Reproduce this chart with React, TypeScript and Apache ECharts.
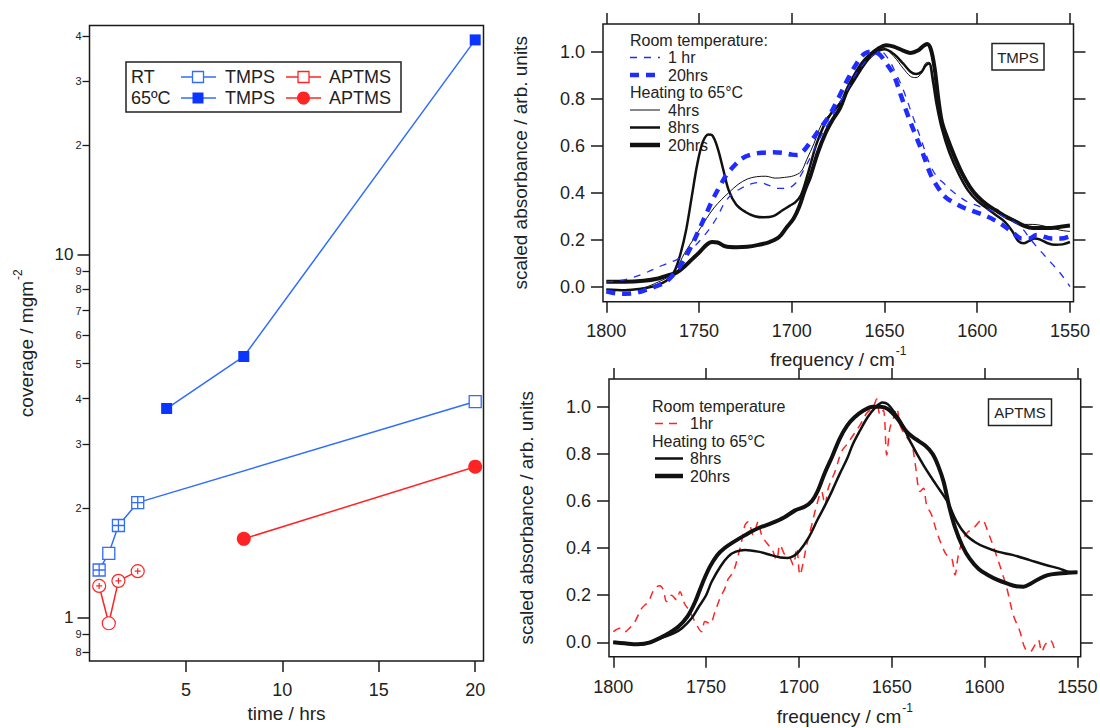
import React, { useEffect, useRef } from 'react';
import * as echarts from 'echarts';

const FONT = '"Liberation Sans", Arial, Helvetica, sans-serif';
const TXT = '#222';
const FRAME = '#1a1a1a';

// ---------- Left panel: coverage vs time ----------
const timeRTTmps = [0.5, 1, 1.5, 2.5, 20];
const coverageRTTmps = [1.35, 1.5, 1.79, 2.07, 3.93];
const crossRTTmps = [true, false, true, true, false];

const timeRTAptms = [0.5, 1, 1.5, 2.5];
const coverageRTAptms = [1.22, 0.963, 1.26, 1.34];
const crossRTAptms = [true, false, true, true];

const time65Tmps = [4, 8, 20];
const coverage65Tmps = [3.76, 5.23, 38.96];

const time65Aptms = [8, 20];
const coverage65Aptms = [1.645, 2.6];

const timeTicks = [5, 10, 15, 20];
const covMajorTicks = [1, 10];
const covMajorLabels = ['1', '10'];
const covMinorTicks = [0.8, 0.9, 2, 3, 4, 5, 6, 7, 8, 9, 20, 30, 40];
const covMinorLabels = ['8', '9', '2', '3', '4', '5', '6', '7', '8', '9', '2', '3', '4'];

// ---------- Spectra ----------
const freqTicks = [1550, 1600, 1650, 1700, 1750, 1800];
const absTicks = [0, 0.2, 0.4, 0.6, 0.8, 1.0];

const tmpsRT1hr = [
  [1800, 0.02], [1790, 0.03], [1780, 0.055], [1770, 0.09], [1762, 0.115], [1757, 0.14], [1752, 0.175],
  [1748, 0.21], [1744, 0.25], [1740, 0.3], [1736, 0.36], [1732, 0.395], [1727, 0.42], [1722, 0.438],
  [1717, 0.443], [1712, 0.43], [1707, 0.418], [1702, 0.42], [1698, 0.44], [1694, 0.49], [1690, 0.55],
  [1685, 0.63], [1680, 0.7], [1675, 0.77], [1670, 0.84], [1665, 0.91], [1660, 0.96], [1655, 0.99],
  [1652, 1.0], [1648, 0.97], [1644, 0.91], [1640, 0.84], [1635, 0.73], [1630, 0.62], [1626, 0.53],
  [1622, 0.47], [1618, 0.44], [1614, 0.41], [1610, 0.385], [1605, 0.36], [1600, 0.345], [1595, 0.33],
  [1590, 0.315], [1585, 0.295], [1580, 0.275], [1576, 0.25], [1572, 0.21], [1568, 0.17], [1564, 0.135],
  [1560, 0.1], [1555, 0.055], [1550, 0.0],
];

const tmpsRT20hrs = [
  [1800, -0.02], [1795, -0.028], [1790, -0.03], [1785, -0.028], [1779, -0.015], [1772, 0.005], [1768, 0.02],
  [1764, 0.05], [1760, 0.09], [1757, 0.13], [1754, 0.175], [1751, 0.225], [1747, 0.295], [1743, 0.365],
  [1739, 0.425], [1735, 0.478], [1731, 0.515], [1727, 0.545], [1722, 0.562], [1716, 0.57], [1710, 0.572],
  [1705, 0.57], [1700, 0.562], [1697, 0.56], [1694, 0.575], [1690, 0.615], [1685, 0.67], [1680, 0.725],
  [1675, 0.8], [1670, 0.88], [1665, 0.95], [1661, 0.99], [1657, 1.0], [1653, 0.99], [1649, 0.95],
  [1645, 0.9], [1641, 0.81], [1637, 0.72], [1633, 0.64], [1629, 0.56], [1625, 0.475], [1621, 0.42],
  [1617, 0.38], [1612, 0.355], [1607, 0.335], [1600, 0.315], [1595, 0.3], [1590, 0.28], [1585, 0.255],
  [1580, 0.225], [1576, 0.205], [1572, 0.205], [1568, 0.22], [1565, 0.215], [1560, 0.205], [1555, 0.205],
  [1550, 0.215],
];

const tmps65_4hrs = [
  [1800, -0.012], [1790, -0.015], [1780, -0.005], [1772, 0.02], [1766, 0.045], [1762, 0.08], [1758, 0.14],
  [1754, 0.19], [1750, 0.24], [1746, 0.29], [1742, 0.335], [1738, 0.37], [1734, 0.4], [1729, 0.435],
  [1724, 0.458], [1719, 0.468], [1714, 0.47], [1709, 0.462], [1704, 0.465], [1699, 0.472], [1695, 0.49],
  [1692, 0.54], [1688, 0.61], [1684, 0.69], [1680, 0.73], [1676, 0.765], [1672, 0.81], [1668, 0.87],
  [1664, 0.92], [1660, 0.96], [1655, 0.995], [1650, 1.01], [1645, 0.98], [1640, 0.93], [1636, 0.895],
  [1633, 0.89], [1630, 0.91], [1628, 0.95], [1626, 0.955], [1624, 0.9], [1622, 0.8], [1619, 0.69],
  [1615, 0.59], [1610, 0.5], [1605, 0.43], [1600, 0.38], [1595, 0.35], [1590, 0.325], [1585, 0.305],
  [1580, 0.285], [1575, 0.265], [1570, 0.265], [1565, 0.26], [1560, 0.25], [1555, 0.24], [1550, 0.235],
];

const tmps65_8hrs = [
  [1800, -0.012], [1790, -0.015], [1780, -0.008], [1775, 0.0], [1770, 0.015], [1766, 0.035], [1763, 0.07],
  [1760, 0.14], [1757, 0.24], [1754, 0.38], [1751, 0.52], [1748, 0.615], [1745, 0.648], [1743, 0.645],
  [1740, 0.59], [1737, 0.5], [1734, 0.41], [1730, 0.35], [1725, 0.318], [1720, 0.3], [1715, 0.295],
  [1710, 0.3], [1705, 0.325], [1701, 0.345], [1698, 0.36], [1695, 0.39], [1691, 0.49], [1687, 0.6],
  [1683, 0.68], [1679, 0.735], [1675, 0.77], [1671, 0.82], [1667, 0.87], [1663, 0.92], [1659, 0.965],
  [1655, 0.995], [1650, 1.01], [1645, 0.99], [1640, 0.95], [1636, 0.915], [1633, 0.905], [1630, 0.915],
  [1628, 0.94], [1626, 0.95], [1624, 0.88], [1622, 0.78], [1619, 0.67], [1615, 0.57], [1610, 0.48],
  [1605, 0.41], [1600, 0.365], [1595, 0.335], [1590, 0.305], [1585, 0.275], [1581, 0.235], [1578, 0.195],
  [1575, 0.185], [1572, 0.195], [1569, 0.205], [1566, 0.2], [1562, 0.185], [1558, 0.178], [1554, 0.18],
  [1550, 0.19],
];

const tmps65_20hrs = [
  [1800, 0.021], [1790, 0.021], [1780, 0.025], [1772, 0.035], [1766, 0.05], [1762, 0.06], [1758, 0.085],
  [1754, 0.115], [1750, 0.145], [1746, 0.178], [1743, 0.19], [1740, 0.188], [1736, 0.172], [1730, 0.168],
  [1724, 0.17], [1718, 0.178], [1712, 0.19], [1707, 0.21], [1703, 0.25], [1699, 0.29], [1696, 0.34],
  [1693, 0.41], [1690, 0.47], [1686, 0.57], [1682, 0.65], [1678, 0.71], [1674, 0.76], [1670, 0.84],
  [1666, 0.9], [1662, 0.95], [1658, 0.985], [1654, 1.01], [1649, 1.028], [1645, 1.022], [1640, 1.005],
  [1636, 0.995], [1632, 1.005], [1629, 1.025], [1627, 1.033], [1625, 1.01], [1623, 0.93], [1621, 0.8],
  [1619, 0.7], [1616, 0.63], [1612, 0.55], [1608, 0.48], [1604, 0.425], [1600, 0.385], [1595, 0.35],
  [1590, 0.325], [1585, 0.3], [1580, 0.28], [1575, 0.26], [1570, 0.25], [1565, 0.25], [1560, 0.25],
  [1555, 0.255], [1550, 0.26],
];

const aptmsRT1hr = [
  [1800, 0.045], [1796.4, 0.06], [1793.7, 0.045], [1791, 0.062], [1788.3, 0.088], [1784.7, 0.144],
  [1781.1, 0.173], [1777.6, 0.23], [1774.9, 0.24], [1773, 0.222], [1771.3, 0.173], [1768.6, 0.2],
  [1765.9, 0.18], [1764.1, 0.215], [1761.7, 0.166], [1758.7, 0.13], [1756, 0.088], [1752.4, 0.045],
  [1750.6, 0.088], [1747.9, 0.08], [1745.2, 0.13], [1742.5, 0.187], [1739.8, 0.23], [1738, 0.27],
  [1735.3, 0.3], [1732.7, 0.37], [1730.9, 0.427], [1729, 0.498], [1727.3, 0.512], [1724.6, 0.456],
  [1721.9, 0.512], [1720.1, 0.456], [1716.5, 0.413], [1714.7, 0.4], [1712, 0.35], [1710.2, 0.413],
  [1707.5, 0.37], [1704.8, 0.357], [1703, 0.328], [1701.2, 0.4], [1699.4, 0.286], [1697.6, 0.342],
  [1695.8, 0.413], [1693.1, 0.498], [1690.4, 0.583], [1687.8, 0.64], [1686, 0.583], [1684.2, 0.654],
  [1680.6, 0.724], [1677, 0.81], [1674.3, 0.838], [1670.7, 0.88], [1667.1, 0.922], [1663.5, 0.972],
  [1659.9, 1.0], [1658.1, 1.033], [1656.3, 0.965], [1654.5, 0.986], [1652.7, 0.795], [1651, 0.908],
  [1649.1, 0.951], [1647.3, 0.993], [1645.5, 0.922], [1642.8, 0.88], [1639.2, 0.838], [1637.4, 0.76],
  [1634.7, 0.64], [1632.9, 0.654], [1631.2, 0.583], [1628.5, 0.54], [1625.8, 0.47], [1623.1, 0.413],
  [1620.4, 0.37], [1617.7, 0.357], [1615.9, 0.286], [1614.1, 0.37], [1611.4, 0.44], [1608.7, 0.47],
  [1606, 0.484], [1601.5, 0.52], [1597.9, 0.463], [1594.3, 0.385], [1590.7, 0.3], [1588, 0.23],
  [1584.5, 0.116], [1580.9, 0.045], [1578.2, -0.025], [1575.5, -0.04], [1572.8, -0.011], [1571, 0.01],
  [1569.2, -0.04], [1567.4, -0.011], [1564.7, 0.01], [1562, -0.04],
];

const aptms65_8hrs = [
  [1800, 0.0], [1793, -0.006], [1786, -0.01], [1779, 0.005], [1772, 0.024], [1767, 0.04], [1763, 0.06],
  [1758, 0.1], [1754, 0.15], [1750, 0.2], [1747, 0.257], [1742, 0.325], [1738, 0.365], [1734, 0.385],
  [1729, 0.392], [1722, 0.385], [1715, 0.37], [1710, 0.36], [1706, 0.358], [1703, 0.366], [1700, 0.385],
  [1695, 0.441], [1690, 0.52], [1686, 0.58], [1682, 0.645], [1678, 0.715], [1674, 0.78], [1671, 0.84],
  [1667, 0.9], [1663, 0.955], [1659, 0.995], [1655, 1.018], [1652, 1.01], [1648, 0.97], [1645, 0.935],
  [1640, 0.852], [1633, 0.753], [1626, 0.668], [1620, 0.597], [1615, 0.512], [1610, 0.456], [1605, 0.425],
  [1600, 0.405], [1593, 0.385], [1585, 0.371], [1576, 0.35], [1567, 0.328], [1560, 0.314], [1554, 0.298],
  [1550, 0.297],
];

const aptms65_20hrs = [
  [1800, 0.0], [1794, -0.004], [1787, -0.008], [1780, 0.0], [1772, 0.03], [1765, 0.066], [1760, 0.11],
  [1756, 0.17], [1752, 0.25], [1748, 0.32], [1744, 0.37], [1740, 0.4], [1736, 0.422], [1729, 0.455],
  [1722, 0.484], [1715, 0.505], [1708, 0.53], [1702, 0.56], [1697, 0.575], [1693, 0.6], [1690, 0.64],
  [1686, 0.72], [1682, 0.79], [1678, 0.865], [1674, 0.92], [1670, 0.955], [1665, 0.985], [1660, 1.0],
  [1656, 1.0], [1652, 0.99], [1647, 0.95], [1642, 0.894], [1637, 0.862], [1632, 0.835], [1628, 0.8],
  [1625, 0.75], [1622, 0.68], [1619, 0.575], [1616, 0.49], [1612, 0.41], [1608, 0.355], [1603, 0.31],
  [1598, 0.285], [1593, 0.265], [1588, 0.25], [1583, 0.238], [1579, 0.236], [1575, 0.25], [1571, 0.268],
  [1566, 0.285], [1560, 0.292], [1555, 0.295], [1550, 0.297],
];

// ---------- styling helpers ----------
const BLUE_LINE = '#2f6dff';
const BLUE_FILL = '#0a36ff';
const RED = '#ff2424';
const SPEC_BLUE = '#1f2bff';
const BLACK = '#111111';

const SQ = 'path://M0,0L10,0L10,10L0,10Z';
const SQ_CROSS = 'path://M0,0L10,0L10,10L0,10Z M5,0L5,10 M0,5L10,5';
const CIRC = 'path://M0,5A5,5,0,1,1,10,5A5,5,0,1,1,0,5Z';
const CIRC_PLUS = 'path://M0,5A5,5,0,1,1,10,5A5,5,0,1,1,0,5Z M5,2.7L5,7.3 M2.7,5L7.3,5';

const log10 = (v: number) => Math.log10(v);

function labelFor(ticks: number[], labels: string[], v: number) {
  let best = 0;
  let bd = Infinity;
  ticks.forEach((t, i) => {
    const d = Math.abs(log10(t) - v);
    if (d < bd) { bd = d; best = i; }
  });
  return labels[best];
}

const supRich = {
  base: { fontSize: 19, fontFamily: FONT, color: TXT, verticalAlign: 'bottom', lineHeight: 24 },
  sup: { fontSize: 12, fontFamily: FONT, color: TXT, verticalAlign: 'top', lineHeight: 24, padding: [0, 0, 12, 1] },
};

const noLine = { show: false, onZero: false };

function freqAxis(gridIndex: number, min: number, max: number, position: 'top' | 'bottom', withLabels: boolean, nameGap: number, labelMargin: number) {
  return {
    type: 'value',
    gridIndex,
    position,
    inverse: true,
    min,
    max,
    axisLine: noLine,
    splitLine: { show: false },
    axisTick: { show: true, length: 11, customValues: freqTicks, lineStyle: { color: FRAME, width: 1.5 } },
    axisLabel: {
      show: withLabels,
      customValues: freqTicks,
      fontSize: 18,
      fontFamily: FONT,
      color: TXT,
      margin: labelMargin,
      formatter: (v: number) => String(Math.round(v)),
    },
    name: withLabels ? '{base|frequency / cm}{sup|-1}' : '',
    nameLocation: 'middle',
    nameGap,
    nameTextStyle: { rich: supRich },
  };
}

function absAxis(gridIndex: number, min: number, max: number, position: 'left' | 'right', withLabels: boolean, nameGap: number) {
  return {
    type: 'value',
    gridIndex,
    position,
    min,
    max,
    axisLine: noLine,
    splitLine: { show: false },
    axisTick: { show: true, length: 12, customValues: absTicks, lineStyle: { color: FRAME, width: 1.5 } },
    axisLabel: {
      show: withLabels,
      customValues: absTicks,
      fontSize: 18,
      fontFamily: FONT,
      color: TXT,
      margin: 18,
      formatter: (v: number) => v.toFixed(1),
    },
    name: withLabels ? 'scaled absorbance / arb. units' : '',
    nameLocation: 'middle',
    nameGap,
    nameRotate: 90,
    nameTextStyle: { fontSize: 19, fontFamily: FONT, color: TXT },
  };
}

function specLine(data: number[][], xi: number, yi: number, color: string, width: number, dash: number[] | 'solid', z: number) {
  return {
    type: 'line',
    xAxisIndex: xi,
    yAxisIndex: yi,
    data,
    showSymbol: false,
    symbol: 'none',
    smooth: 0.35,
    clip: true,
    silent: true,
    z,
    lineStyle: { color, width, type: dash, cap: 'butt', join: 'round' },
  };
}

function buildOption() {
  const gridBorder = {
    show: true, borderColor: FRAME, borderWidth: 1.5, backgroundColor: 'transparent',
    containLabel: false, outerBoundsMode: 'none',
  };

  const rtTmpsData = timeRTTmps.map((t, i) => ({
    value: [t, log10(coverageRTTmps[i])],
    symbol: crossRTTmps[i] ? SQ_CROSS : SQ,
  }));
  const rtAptmsData = timeRTAptms.map((t, i) => ({
    value: [t, log10(coverageRTAptms[i])],
    symbol: crossRTAptms[i] ? CIRC_PLUS : CIRC,
  }));

  const legendText = (text: string, x: number, y: number, size = 16) => ({
    type: 'text',
    x,
    y,
    silent: true,
    style: { text, fill: TXT, fontSize: size, fontFamily: FONT, verticalAlign: 'middle', align: 'left' },
  });
  const legendLine = (x1: number, x2: number, y: number, stroke: string, lineWidth: number, lineDash?: number[]) => ({
    type: 'line',
    silent: true,
    shape: { x1, y1: y, x2, y2: y },
    style: { stroke, lineWidth, lineDash: lineDash || null },
  });

  const graphic = [
    // Left-panel legend
    { type: 'rect', silent: true, shape: { x: 126, y: 62, width: 275, height: 50 }, style: { fill: '#fff', stroke: '#222', lineWidth: 1.5 } },
    legendText('RT', 131, 77, 18),
    legendText('65ºC', 131, 98, 18),
    legendLine(181, 216, 77, BLUE_LINE, 1.5),
    { type: 'rect', silent: true, shape: { x: 192.5, y: 71.5, width: 11, height: 11 }, style: { fill: '#fff', stroke: BLUE_LINE, lineWidth: 1.3 } },
    legendText('TMPS', 225, 77, 18),
    legendLine(181, 216, 98, BLUE_LINE, 1.5),
    { type: 'rect', silent: true, shape: { x: 192.5, y: 92.5, width: 11, height: 11 }, style: { fill: BLUE_FILL } },
    legendText('TMPS', 225, 98, 18),
    legendLine(286, 321, 77, RED, 1.5),
    { type: 'rect', silent: true, shape: { x: 298, y: 71.5, width: 11, height: 11 }, style: { fill: '#fff', stroke: RED, lineWidth: 1.3 } },
    legendText('APTMS', 329, 77, 18),
    legendLine(286, 321, 98, RED, 1.5),
    { type: 'circle', silent: true, shape: { cx: 303.5, cy: 98, r: 6.5 }, style: { fill: RED } },
    legendText('APTMS', 329, 98, 18),

    // Top-right legend
    legendText('Room temperature:', 630, 40),
    legendLine(630, 660, 57.5, SPEC_BLUE, 1.3, [7, 7]),
    legendText('1 hr', 668, 57.5),
    legendLine(630, 660, 75, SPEC_BLUE, 4.5, [9, 7]),
    legendText('20hrs', 668, 75),
    legendText('Heating to 65°C', 630, 92.5),
    legendLine(630, 660, 110, BLACK, 1),
    legendText('4hrs', 668, 110),
    legendLine(630, 660, 127.5, BLACK, 2.5),
    legendText('8hrs', 668, 127.5),
    legendLine(630, 660, 145, BLACK, 4.5),
    legendText('20hrs', 668, 145),
    { type: 'rect', silent: true, shape: { x: 992, y: 43.5, width: 52, height: 26.5 }, style: { fill: '#fff', stroke: '#222', lineWidth: 1.5 } },
    { type: 'text', silent: true, x: 1018, y: 57, style: { text: 'TMPS', fill: TXT, fontSize: 15, fontFamily: FONT, align: 'center', verticalAlign: 'middle' } },

    // Bottom-right legend
    legendText('Room temperature', 652, 406),
    legendLine(655, 683, 423.5, RED, 1.5, [8, 6]),
    legendText('1hr', 690, 423.5),
    legendText('Heating to 65°C', 652, 441),
    legendLine(655, 683, 458.5, BLACK, 2.5),
    legendText('8hrs', 690, 458.5),
    legendLine(655, 683, 476, BLACK, 4.5),
    legendText('20hrs', 690, 476),
    { type: 'rect', silent: true, shape: { x: 988.5, y: 399, width: 63, height: 26.5 }, style: { fill: '#fff', stroke: '#222', lineWidth: 1.5 } },
    { type: 'text', silent: true, x: 1020, y: 412.5, style: { text: 'APTMS', fill: TXT, fontSize: 15, fontFamily: FONT, align: 'center', verticalAlign: 'middle' } },
  ];

  return {
    animation: false,
    backgroundColor: '#ffffff',
    textStyle: { fontFamily: FONT },
    grid: [
      { left: 89.5, top: 25.5, width: 394, height: 635.5, ...gridBorder },
      { left: 603, top: 24, width: 470.5, height: 277.7, ...gridBorder },
      { left: 609, top: 379, width: 471.7, height: 277.7, ...gridBorder },
    ],
    xAxis: [
      {
        type: 'value',
        gridIndex: 0,
        position: 'bottom',
        min: 0,
        max: 20.43,
        axisLine: noLine,
        splitLine: { show: false },
        axisTick: { show: true, length: 11, customValues: timeTicks, lineStyle: { color: FRAME, width: 1.5 } },
        axisLabel: { customValues: timeTicks, fontSize: 18, fontFamily: FONT, color: TXT, margin: 20 },
        name: 'time / hrs',
        nameLocation: 'middle',
        nameGap: 43,
        nameTextStyle: { fontSize: 19, fontFamily: FONT, color: TXT },
      },
      freqAxis(1, 1548.1, 1801.8, 'bottom', true, 43, 20),
      freqAxis(1, 1548.1, 1801.8, 'top', false, 0, 8),
      freqAxis(2, 1548.2, 1802.3, 'bottom', true, 45, 21),
      freqAxis(2, 1548.2, 1802.3, 'top', false, 0, 8),
    ],
    yAxis: [
      {
        type: 'value',
        gridIndex: 0,
        position: 'left',
        min: -0.1204,
        max: 1.6303,
        axisLine: noLine,
        splitLine: { show: false },
        axisTick: { show: true, length: 12, customValues: covMajorTicks.map(log10), lineStyle: { color: FRAME, width: 1.5 } },
        axisLabel: {
          customValues: covMajorTicks.map(log10),
          fontSize: 17,
          fontFamily: FONT,
          color: TXT,
          margin: 16,
          formatter: (v: number) => labelFor(covMajorTicks, covMajorLabels, v),
        },
        name: '{base|coverage / mgm}{sup|-2}',
        nameLocation: 'middle',
        nameGap: 54,
        nameRotate: 90,
        nameTextStyle: { rich: supRich },
      },
      {
        type: 'value',
        gridIndex: 0,
        position: 'left',
        min: -0.1204,
        max: 1.6303,
        axisLine: noLine,
        splitLine: { show: false },
        axisTick: { show: true, length: 7, customValues: covMinorTicks.map(log10), lineStyle: { color: FRAME, width: 1.3 } },
        axisLabel: {
          customValues: covMinorTicks.map(log10),
          fontSize: 11,
          fontFamily: FONT,
          color: TXT,
          margin: 8,
          formatter: (v: number) => labelFor(covMinorTicks, covMinorLabels, v),
        },
      },
      absAxis(1, -0.064, 1.118, 'left', true, 73),
      absAxis(1, -0.064, 1.118, 'right', false, 0),
      absAxis(2, -0.061, 1.1176, 'left', true, 73),
      absAxis(2, -0.061, 1.1176, 'right', false, 0),
    ],
    series: [
      // Left panel
      {
        type: 'line', xAxisIndex: 0, yAxisIndex: 0, data: rtTmpsData, symbolSize: 12, silent: true,
        lineStyle: { color: BLUE_LINE, width: 1.5 },
        itemStyle: { color: '#fff', borderColor: BLUE_LINE, borderWidth: 1.3 }, z: 3,
      },
      {
        type: 'line', xAxisIndex: 0, yAxisIndex: 0,
        data: time65Tmps.map((t, i) => [t, log10(coverage65Tmps[i])]),
        symbol: 'rect', symbolSize: 11, silent: true,
        lineStyle: { color: BLUE_LINE, width: 1.5 },
        itemStyle: { color: BLUE_FILL }, z: 3,
      },
      {
        type: 'line', xAxisIndex: 0, yAxisIndex: 0, data: rtAptmsData, symbolSize: 13, silent: true,
        lineStyle: { color: RED, width: 1.5 },
        itemStyle: { color: '#fff', borderColor: RED, borderWidth: 1.2 }, z: 3,
      },
      {
        type: 'line', xAxisIndex: 0, yAxisIndex: 0,
        data: time65Aptms.map((t, i) => [t, log10(coverage65Aptms[i])]),
        symbol: 'circle', symbolSize: 14, silent: true,
        lineStyle: { color: RED, width: 1.5 },
        itemStyle: { color: RED }, z: 3,
      },
      // Top-right (TMPS spectra)
      specLine(tmps65_4hrs, 1, 2, BLACK, 1, 'solid', 2),
      specLine(tmps65_8hrs, 1, 2, BLACK, 2.5, 'solid', 2),
      specLine(tmps65_20hrs, 1, 2, BLACK, 4, 'solid', 2),
      specLine(tmpsRT1hr, 1, 2, SPEC_BLUE, 1.3, [7, 7], 3),
      specLine(tmpsRT20hrs, 1, 2, SPEC_BLUE, 4.5, [9, 7], 3),
      // Bottom-right (APTMS spectra)
      specLine(aptmsRT1hr, 3, 4, RED, 1.5, [8, 6], 2),
      specLine(aptms65_8hrs, 3, 4, BLACK, 2.5, 'solid', 3),
      specLine(aptms65_20hrs, 3, 4, BLACK, 4, 'solid', 3),
    ],
    graphic,
  };
}

export default function App() {
  const ref = useRef<HTMLDivElement>(null);
  useEffect(() => {
    if (!ref.current) return;
    const chart = echarts.init(ref.current, null, { renderer: 'svg' });
    chart.setOption(buildOption() as any);
    return () => chart.dispose();
  }, []);
  return (
    <div
      ref={ref}
      style={{ position: 'absolute', left: 0, top: 0, width: 1100, height: 728, background: '#fff' }}
    />
  );
}
